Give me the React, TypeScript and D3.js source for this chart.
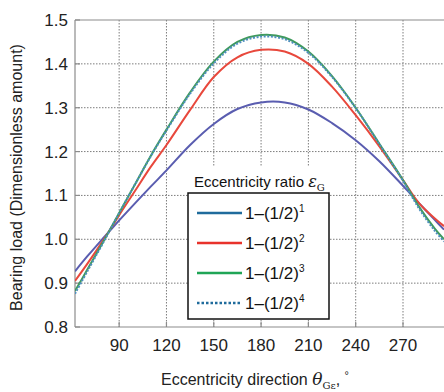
import React, { useEffect, useRef } from "react";
import * as d3 from "d3";

// eccentricity direction, degrees
const angles = [62, 70, 80, 90, 100, 110, 120, 135, 150, 165, 180, 195, 210, 225, 240, 255, 270, 280, 290, 296];

// bearing load per eccentricity ratio
const load1 = [0.927, 0.962, 1.003, 1.043, 1.082, 1.12, 1.157, 1.215, 1.263, 1.297, 1.312, 1.312, 1.296, 1.265, 1.226, 1.178, 1.122, 1.083, 1.045, 1.022];
const load2 = [0.905, 0.945, 0.998, 1.055, 1.11, 1.165, 1.215, 1.295, 1.37, 1.415, 1.432, 1.428, 1.4, 1.348, 1.283, 1.212, 1.135, 1.083, 1.048, 1.03];
const load3 = [0.882, 0.932, 0.995, 1.06, 1.125, 1.19, 1.25, 1.335, 1.405, 1.45, 1.466, 1.46, 1.428, 1.372, 1.3, 1.218, 1.135, 1.075, 1.025, 1.0];
const load4 = [0.876, 0.928, 0.993, 1.06, 1.125, 1.189, 1.248, 1.332, 1.401, 1.446, 1.462, 1.456, 1.425, 1.37, 1.299, 1.217, 1.133, 1.071, 1.02, 0.995];

const xTicks = [90, 120, 150, 180, 210, 240, 270];
const yTicks = [0.8, 0.9, 1.0, 1.1, 1.2, 1.3, 1.4, 1.5];
const powers = ["1", "2", "3", "4"];

const App = () => {
  const svgRef = useRef<SVGSVGElement>(null);

  useEffect(() => {
    const width = 444;
    const height = 392;
    const left = 75, top = 20, right = 444, bottom = 327;
    const font = "'Liberation Sans', Arial, Helvetica, sans-serif";

    const svg = d3.select(svgRef.current)
      .attr("width", width)
      .attr("height", height)
      .style("font-family", font);
    svg.selectAll("*").remove();

    const x = d3.scaleLinear().domain([62, 296]).range([left, right]);
    const y = d3.scaleLinear().domain([0.8, 1.5]).range([bottom, top]);

    svg.append("rect").attr("width", width).attr("height", height).attr("fill", "#fff");

    svg.append("clipPath").attr("id", "plotClip")
      .append("rect")
      .attr("x", left).attr("y", top)
      .attr("width", right - left).attr("height", bottom - top);

    // grid
    const grid = svg.append("g")
      .attr("stroke", "#7d7d7d")
      .attr("stroke-width", 1)
      .attr("stroke-dasharray", "1.5,1.5");
    grid.selectAll(".gx")
      .data(xTicks)
      .enter()
      .append("line")
      .attr("x1", d => x(d)).attr("x2", d => x(d))
      .attr("y1", top).attr("y2", bottom);
    grid.selectAll(".gy")
      .data(yTicks.slice(1, -1))
      .enter()
      .append("line")
      .attr("x1", left).attr("x2", right)
      .attr("y1", d => y(d)).attr("y2", d => y(d));

    // frame
    const frame = svg.append("g").attr("stroke", "#8c8c8c").attr("stroke-width", 1.2).attr("fill", "none");
    frame.append("line").attr("x1", left).attr("x2", right).attr("y1", top).attr("y2", top);
    frame.append("line").attr("x1", left).attr("x2", right).attr("y1", bottom).attr("y2", bottom);
    frame.append("line").attr("x1", left).attr("x2", left).attr("y1", top).attr("y2", bottom);
    frame.selectAll(".tx")
      .data(xTicks)
      .enter()
      .append("line")
      .attr("x1", d => x(d)).attr("x2", d => x(d))
      .attr("y1", bottom).attr("y2", bottom - 5);
    frame.selectAll(".ty")
      .data(yTicks)
      .enter()
      .append("line")
      .attr("x1", left).attr("x2", left + 5)
      .attr("y1", d => y(d)).attr("y2", d => y(d));

    // curves
    const series = [
      { values: load1, color: "#5a5db0", dash: null },
      { values: load2, color: "#e8483c", dash: null },
      { values: load3, color: "#3f9a5c", dash: null },
      { values: load4, color: "#4f8fbf", dash: "2,1.6" },
    ];
    const line = d3.line<number>()
      .x((_, i) => x(angles[i]))
      .y(d => y(d))
      .curve(d3.curveCatmullRom.alpha(0.5));

    const plot = svg.append("g").attr("clip-path", "url(#plotClip)");
    plot.selectAll(".curve")
      .data(series)
      .enter()
      .append("path")
      .attr("class", "curve")
      .attr("d", d => line(d.values))
      .attr("fill", "none")
      .attr("stroke", d => d.color)
      .attr("stroke-width", 2)
      .attr("stroke-dasharray", d => d.dash);

    // tick labels
    svg.selectAll(".ylab")
      .data(yTicks)
      .enter()
      .append("text")
      .attr("x", left - 7)
      .attr("y", d => y(d) + 6)
      .attr("text-anchor", "end")
      .style("font-size", "17px")
      .style("fill", "#222")
      .text(d => d.toFixed(1));
    svg.selectAll(".xlab")
      .data(xTicks)
      .enter()
      .append("text")
      .attr("x", d => x(d))
      .attr("y", bottom + 24)
      .attr("text-anchor", "middle")
      .style("font-size", "17px")
      .style("fill", "#222")
      .text(d => d);

    // axis titles
    svg.append("text")
      .attr("transform", `translate(22,${(top + bottom) / 2 + 4}) rotate(-90)`)
      .attr("text-anchor", "middle")
      .style("font-size", "16px")
      .style("fill", "#222")
      .text("Bearing load (Dimensionless amount)");

    const xt = svg.append("text")
      .attr("x", 255)
      .attr("y", 385)
      .attr("text-anchor", "middle")
      .style("font-size", "16px")
      .style("fill", "#222");
    xt.append("tspan").text("Eccentricity direction ");
    xt.append("tspan").style("font-style", "italic").style("font-family", "'DejaVu Serif', serif").style("font-size", "17px").text("θ");
    xt.append("tspan").attr("dy", 4).style("font-size", "10px").style("font-family", "'DejaVu Serif', serif").text("Gε");
    xt.append("tspan").attr("dy", -4).text(", ");
    xt.append("tspan").attr("dy", -6).style("font-size", "11px").text("°");

    // legend
    const lg = svg.append("g");
    lg.append("rect")
      .attr("x", 186).attr("y", 166)
      .attr("width", 146).attr("height", 27)
      .attr("fill", "#fff");
    const title = lg.append("text")
      .attr("x", 194).attr("y", 187)
      .style("font-size", "15px")
      .style("fill", "#111");
    title.append("tspan").text("Eccentricity ratio ");
    title.append("tspan").style("font-style", "italic").style("font-family", "'DejaVu Serif', serif").style("font-size", "16px").text("ε");
    title.append("tspan").attr("dy", 4).style("font-size", "10px").style("font-family", "'DejaVu Serif', serif").text("G");

    lg.append("rect")
      .attr("x", 188).attr("y", 193)
      .attr("width", 141).attr("height", 126)
      .attr("fill", "#fff")
      .attr("stroke", "#111")
      .attr("stroke-width", 1.5);

    const legendColors = ["#1f6b9c", "#e8322b", "#1fa556", "#1f6b9c"];
    const rowY = d3.scaleLinear().domain([0, 3]).range([213, 303]);
    const rows = lg.selectAll(".row")
      .data(powers)
      .enter()
      .append("g")
      .attr("transform", (_, i) => `translate(0,${rowY(i)})`);
    rows.append("line")
      .attr("x1", 197).attr("x2", 242)
      .attr("y1", 0).attr("y2", 0)
      .attr("stroke", (_, i) => legendColors[i])
      .attr("stroke-width", 2.5)
      .attr("stroke-dasharray", (_, i) => (i === 3 ? "2.5,2" : null));
    const rt = rows.append("text")
      .attr("x", 245).attr("y", 6)
      .style("font-size", "17px")
      .style("fill", "#111");
    rt.append("tspan").text("1\u2013(1/2)");
    rt.append("tspan").attr("dy", -7).style("font-size", "10px").text(d => d);
  }, []);

  return (
    <div style={{ position: "absolute", left: 0, top: 0 }}>
      <svg ref={svgRef}></svg>
    </div>
  );
};

export default App;
